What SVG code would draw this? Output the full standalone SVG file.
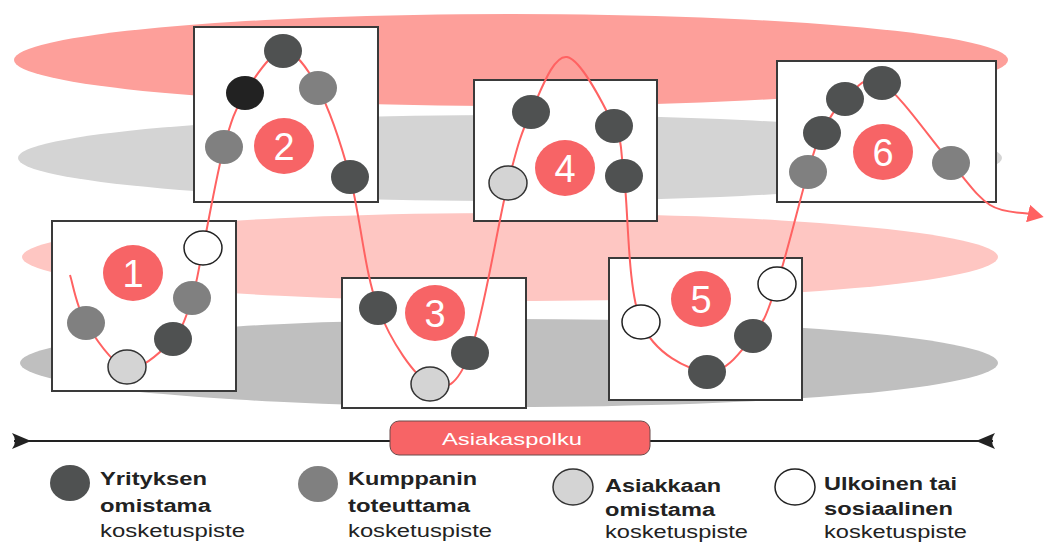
<svg xmlns="http://www.w3.org/2000/svg" width="1047" height="542" viewBox="0 0 1047 542">
<style>
.band1{fill:#fd9f9a}.band2{fill:#d4d4d4}.band3{fill:#fec6c2}.band4{fill:#bfbfbf}
.box{fill:#fff;stroke:#3a3a3a;stroke-width:2}
.badge{fill:#f76466}
.num{font-family:"Liberation Sans",Arial,sans-serif;font-size:38px;fill:#fff;text-anchor:middle}
.dk{fill:#4f5151}.bk{fill:#222}.md{fill:#808080}
.lt{fill:#d4d4d4;stroke:#333;stroke-width:1.5}
.wh{fill:#fff;stroke:#222;stroke-width:1.5}
.path{fill:none;stroke:#ff6262;stroke-width:2}
.tl{stroke:#222;stroke-width:2;fill:none}
.lb{font-family:"Liberation Sans",Arial,sans-serif;font-size:18px;fill:#222;font-weight:bold}
.lr{font-family:"Liberation Sans",Arial,sans-serif;font-size:18px;fill:#222}
.pill{fill:#f76466;stroke:#6a4a4a;stroke-width:1}
.pt{font-family:"Liberation Sans",Arial,sans-serif;font-size:17px;fill:#fff}
</style>
<defs>
<marker id="arr" markerUnits="userSpaceOnUse" viewBox="0 0 16 18" markerWidth="16" markerHeight="18" refX="2" refY="9" orient="auto">
<path d="M0,0 L16,9 L0,18 z" fill="#ff6262"/>
</marker>
</defs>
<g id="bands">
<ellipse class="band1" cx="511" cy="60" rx="497" ry="46"/>
<ellipse class="band2" cx="510" cy="158" rx="492" ry="43"/>
<ellipse class="band3" cx="510" cy="257" rx="488" ry="44"/>
<ellipse class="band4" cx="509" cy="363" rx="489" ry="44"/>
</g>
<g id="node1"><rect class="box" x="52" y="221" width="184" height="170"/><ellipse class="badge" cx="133" cy="273" rx="30" ry="28"/><text class="num" x="133" y="287">1</text></g>
<g id="node2"><rect class="box" x="194" y="27" width="184" height="175"/><ellipse class="badge" cx="284" cy="146" rx="30" ry="28"/><text class="num" x="284" y="160">2</text></g>
<g id="node3"><rect class="box" x="342" y="278" width="184" height="130"/><ellipse class="badge" cx="435" cy="313" rx="30" ry="28"/><text class="num" x="435" y="327">3</text></g>
<g id="node4"><rect class="box" x="474" y="80" width="183" height="141"/><ellipse class="badge" cx="565" cy="168" rx="30" ry="28"/><text class="num" x="565" y="182">4</text></g>
<g id="node5"><rect class="box" x="609" y="258" width="193" height="142"/><ellipse class="badge" cx="701" cy="299" rx="30" ry="28"/><text class="num" x="701" y="313">5</text></g>
<g id="node6"><rect class="box" x="777" y="61" width="219" height="141"/><ellipse class="badge" cx="883" cy="152" rx="30" ry="28"/><text class="num" x="883" y="166">6</text></g>
<g id="connectors">
<path class="path" marker-end="url(#arr)" d="M70,275 C72.7,283 76.5,307.5 86,323 C95.5,338.5 112.5,365.3 127,368 C141.5,370.7 162.2,350.7 173,339 C183.8,327.3 187,313.2 192,298 C197,282.8 197.7,273.2 203,248 C208.3,222.8 217,172.8 224,147 C231,121.2 235.2,109 245,93 C254.8,77 270.8,51.8 283,51 C295.2,50.2 306.8,67 318,88 C329.2,109 340,140.3 350,177 C360,213.7 364.7,273.5 378,308 C391.3,342.5 414.7,376.5 430,384 C445.3,391.5 457,386.5 470,353 C483,319.5 497.8,223.2 508,183 C518.2,142.8 521.2,133 531,112 C540.8,91 553.2,54.7 567,57 C580.8,59.3 604.5,106.2 614,126 C623.5,145.8 619.5,143.3 624,176 C628.5,208.7 627.2,289.3 641,322 C654.8,354.7 688.3,369.7 707,372 C725.7,374.3 741.3,350.7 753,336 C764.7,321.3 767.8,311.3 777,284 C786.2,256.7 800.5,197.2 808,172 C815.5,146.8 815.8,145.2 822,133 C828.2,120.8 835,107.3 845,99 C855,90.7 864.3,72.3 882,83 C899.7,93.7 933,142.7 951,163 C969,183.3 976.8,196.5 990,205 C1003.2,213.5 1023.3,212.5 1030,214"/>
</g>
<g id="points1">
<ellipse class="md" cx="86" cy="323" rx="19" ry="17"/>
<ellipse class="lt" cx="127" cy="367" rx="19" ry="17"/>
<ellipse class="dk" cx="173" cy="339" rx="19" ry="17"/>
<ellipse class="md" cx="192" cy="298" rx="19" ry="17"/>
<ellipse class="wh" cx="203" cy="248" rx="19" ry="17"/>
</g>
<g id="points2">
<ellipse class="md" cx="224" cy="147" rx="19" ry="17"/>
<ellipse class="bk" cx="245" cy="93" rx="19" ry="17"/>
<ellipse class="dk" cx="283" cy="51" rx="19" ry="17"/>
<ellipse class="md" cx="318" cy="88" rx="19" ry="17"/>
<ellipse class="dk" cx="350" cy="177" rx="19" ry="17"/>
</g>
<g id="points3">
<ellipse class="dk" cx="378" cy="308" rx="19" ry="17"/>
<ellipse class="lt" cx="430" cy="384" rx="19" ry="17"/>
<ellipse class="dk" cx="470" cy="353" rx="19" ry="17"/>
</g>
<g id="points4">
<ellipse class="lt" cx="508" cy="183" rx="19" ry="17"/>
<ellipse class="dk" cx="531" cy="112" rx="19" ry="17"/>
<ellipse class="dk" cx="614" cy="126" rx="19" ry="17"/>
<ellipse class="dk" cx="624" cy="176" rx="19" ry="17"/>
</g>
<g id="points5">
<ellipse class="wh" cx="641" cy="322" rx="19" ry="17"/>
<ellipse class="dk" cx="707" cy="372" rx="19" ry="17"/>
<ellipse class="dk" cx="753" cy="336" rx="19" ry="17"/>
<ellipse class="wh" cx="777" cy="284" rx="19" ry="17"/>
</g>
<g id="points6">
<ellipse class="md" cx="808" cy="172" rx="19" ry="17"/>
<ellipse class="dk" cx="822" cy="133" rx="19" ry="17"/>
<ellipse class="dk" cx="845" cy="99" rx="19" ry="17"/>
<ellipse class="dk" cx="882" cy="83" rx="19" ry="17"/>
<ellipse class="md" cx="951" cy="163" rx="19" ry="17"/>
</g>
<g id="timeline">
<line class="tl" x1="14" y1="441" x2="993" y2="441"/>
<path d="M12,433 L31,441 L12,449 Q18,441 12,433 z" fill="#222"/>
<path d="M995,433 L976,441 L995,449 Q989,441 995,433 z" fill="#222"/>
<rect class="pill" x="390" y="421" width="260" height="34" rx="9"/>
<text class="pt" x="442" y="445" textLength="140" lengthAdjust="spacingAndGlyphs">Asiakaspolku</text>
</g>
<g id="legend">
<ellipse class="dk" cx="70" cy="483" rx="20" ry="18"/>
<text class="lb" x="100" y="485" textLength="107" lengthAdjust="spacingAndGlyphs">Yrityksen</text>
<text class="lb" x="100" y="512" textLength="111" lengthAdjust="spacingAndGlyphs">omistama</text>
<text class="lr" x="100" y="537" textLength="145" lengthAdjust="spacingAndGlyphs">kosketuspiste</text>
<ellipse class="md" cx="318" cy="484" rx="20" ry="18"/>
<text class="lb" x="348" y="485" textLength="129" lengthAdjust="spacingAndGlyphs">Kumppanin</text>
<text class="lb" x="348" y="512" textLength="122" lengthAdjust="spacingAndGlyphs">toteuttama</text>
<text class="lr" x="348" y="537" textLength="144" lengthAdjust="spacingAndGlyphs">kosketuspiste</text>
<ellipse class="lt" cx="573" cy="487" rx="20" ry="18"/>
<text class="lb" x="605" y="492" textLength="116" lengthAdjust="spacingAndGlyphs">Asiakkaan</text>
<text class="lb" x="605" y="516" textLength="110" lengthAdjust="spacingAndGlyphs">omistama</text>
<text class="lr" x="605" y="538" textLength="143" lengthAdjust="spacingAndGlyphs">kosketuspiste</text>
<ellipse class="wh" cx="795" cy="487" rx="20" ry="18"/>
<text class="lb" x="824" y="490" textLength="133" lengthAdjust="spacingAndGlyphs">Ulkoinen tai</text>
<text class="lb" x="824" y="515" textLength="129" lengthAdjust="spacingAndGlyphs">sosiaalinen</text>
<text class="lr" x="824" y="538" textLength="143" lengthAdjust="spacingAndGlyphs">kosketuspiste</text>
</g>
</svg>
